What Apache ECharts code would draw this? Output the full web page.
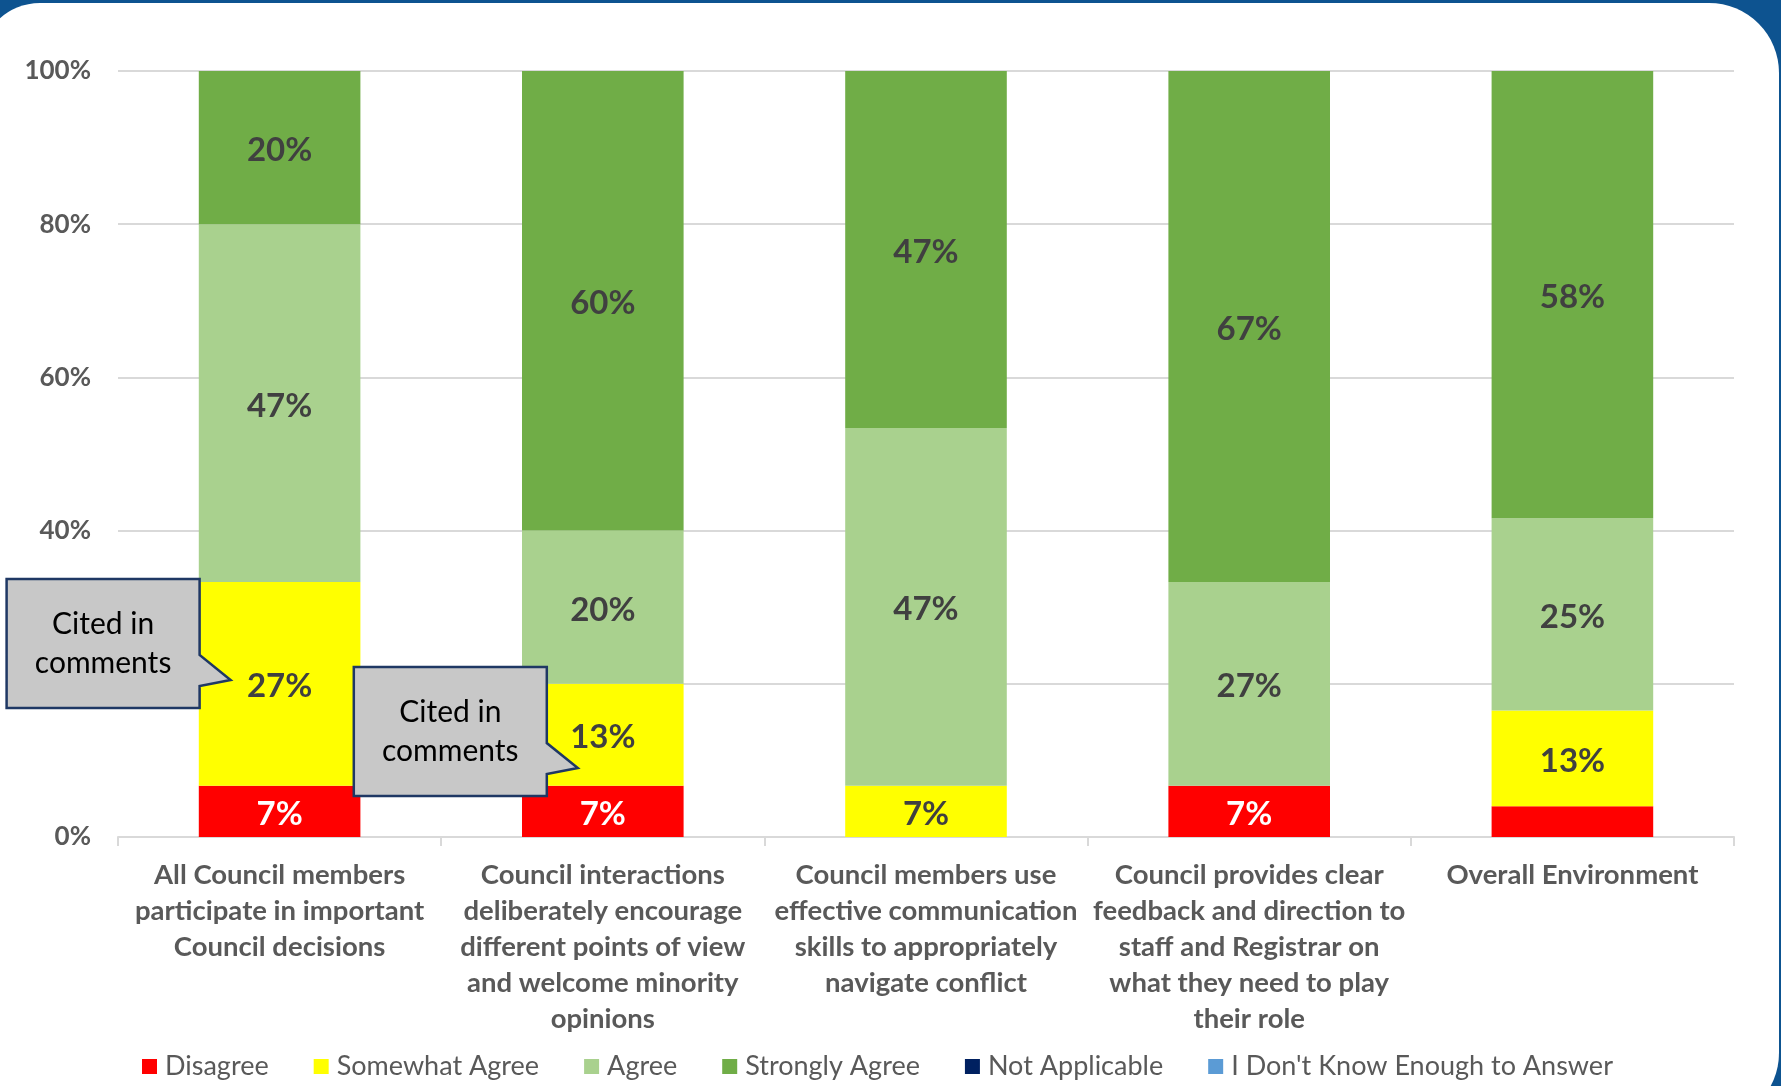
<!DOCTYPE html>
<html>
<head>
<meta charset="utf-8">
<script src="https://cdn.jsdelivr.net/npm/echarts@6/dist/echarts.min.js"></script>
<style>
  html, body { margin: 0; padding: 0; width: 1781px; height: 1086px; overflow: hidden; background: #0D5390; }
  #panel { position: absolute; left: -20px; top: 3px; width: 1799px; height: 1120px; background: #ffffff; border-radius: 60px 70px 70px 0; }
  #chart { position: absolute; left: 0; top: 0; width: 1781px; height: 1086px; }
</style>
</head>
<body>
<div id="panel"></div>
<div id="chart"></div>
<script>
const categories = [
  'All Council members\nparticipate in important\nCouncil decisions',
  'Council interactions\ndeliberately encourage\ndifferent points of view\nand welcome minority\nopinions',
  'Council members use\neffective communication\nskills to appropriately\nnavigate conflict',
  'Council provides clear\nfeedback and direction to\nstaff and Registrar on\nwhat they need to play\ntheir role',
  'Overall Environment'
];
const seriesNames = ['Disagree', 'Somewhat Agree', 'Agree', 'Strongly Agree', 'Not Applicable', "I Don't Know Enough to Answer"];
const disagree = [6.7, 6.7, 0, 6.7, 4];
const somewhatAgree = [26.6, 13.3, 6.7, 0, 12.5];
const agree = [46.7, 20, 46.7, 26.6, 25.1];
const stronglyAgree = [20, 60, 46.6, 66.7, 58.4];
const notApplicable = [0, 0, 0, 0, 0];
const dontKnow = [0, 0, 0, 0, 0];
const yTicks = [0, 20, 40, 60, 80, 100];
const calloutText = 'Cited in\ncomments';

const colors = ['#FF0000', '#FFFF00', '#A9D18E', '#70AD47', '#002060', '#5B9BD5'];
const seriesData = [disagree, somewhatAgree, agree, stronglyAgree, notApplicable, dontKnow];
const FONT = 'Lato';

const chart = echarts.init(document.getElementById('chart'), null, { renderer: 'canvas' });

const series = seriesData.map((d, i) => ({
  name: seriesNames[i],
  type: 'bar',
  stack: 'total',
  barWidth: '50%',
  data: d,
  itemStyle: { color: colors[i] },
  emphasis: { disabled: true },
  label: {
    show: i < 4,
    position: 'inside',
    offset: [0, 3],
    fontFamily: FONT,
    fontWeight: 'bold',
    fontSize: 33,
    color: i === 0 ? '#FFFFFF' : '#404040',
    formatter: p => (p.value >= 5 ? Math.round(p.value) + '%' : '')
  }
}));

chart.setOption({
  backgroundColor: 'transparent',
  animation: false,
  grid: { left: 118, right: 47, top: 71, bottom: 249, containLabel: false },
  legend: {
    data: seriesNames,
    left: 137,
    top: 1048,
    icon: 'rect',
    itemWidth: 15,
    itemHeight: 15,
    itemGap: 45,
    textStyle: { fontFamily: FONT, fontSize: 27, color: '#595959', padding: [0, 0, 0, 3] }
  },
  xAxis: {
    type: 'category',
    data: categories,
    axisLine: { show: true, lineStyle: { color: '#D9D9D9', width: 2 } },
    axisTick: { show: true, length: 9, lineStyle: { color: '#D9D9D9', width: 2 } },
    axisLabel: {
      interval: 0,
      margin: 20,
      fontFamily: FONT,
      fontWeight: 'bold',
      fontSize: 27.5,
      lineHeight: 36,
      color: '#595959'
    }
  },
  yAxis: {
    type: 'value',
    min: yTicks[0],
    max: yTicks[yTicks.length - 1],
    interval: yTicks[1] - yTicks[0],
    axisLine: { show: false },
    axisTick: { show: false },
    splitLine: { lineStyle: { color: '#D9D9D9', width: 2 } },
    axisLabel: {
      margin: 27,
      fontFamily: FONT,
      fontWeight: 'bold',
      fontSize: 26,
      color: '#595959',
      formatter: '{value}%'
    }
  },
  series: series
});

// Callout annotations anchored to the bars they point at
function callout(catIndex, yValue, dxTip, box) {
  const tip = chart.convertToPixel({ gridIndex: 0 }, [catIndex, yValue]);
  const tx = tip[0] + dxTip, ty = tip[1];
  const R = tx - box.toTip;
  const L = R - box.w;
  const T = ty - box.tipDown;
  const B = T + box.h;
  const pts = [[L, T], [R, T], [R, ty - box.baseUp], [tx, ty], [R, ty + box.baseDown], [R, B], [L, B]];
  return [
    {
      type: 'polygon',
      shape: { points: pts },
      style: { fill: '#C8C8C8', stroke: '#1F3864', lineWidth: 2.5 },
      z: 100
    },
    {
      type: 'text',
      x: (L + R) / 2,
      y: (T + B) / 2,
      style: {
        text: calloutText,
        fill: '#000000',
        font: '30px ' + FONT,
        align: 'center',
        verticalAlign: 'middle',
        lineHeight: 39
      },
      z: 101
    }
  ];
}
const box = { w: 193, h: 129, toTip: 31, tipDown: 101, baseUp: 25, baseDown: 6 };
const c1 = callout(0, 20.5, -49, box);
const c2 = callout(1, 9, -25, box);
chart.setOption({ graphic: { elements: c1.concat(c2) } });
</script>
</body>
</html>
